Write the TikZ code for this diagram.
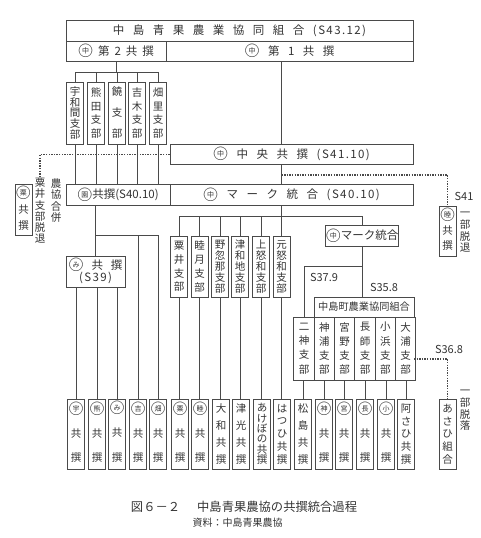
\documentclass[tikz,border=0pt]{standalone}
\usepackage{fontspec}
\setmainfont{Noto Sans CJK JP}
\usepackage{tikz}
\usetikzlibrary{positioning}
\definecolor{linec}{HTML}{4A4A4A}
\definecolor{textc}{HTML}{333333}
\newcommand{\maru}[1]{{\ooalign{\hfil\raisebox{1.6pt}{\fontsize{7}{7}\selectfont #1}\hfil\cr
  \raisebox{-1.4pt}{\fontsize{15}{15}\selectfont ○}\cr}}}
\newcommand{\ma}{\hspace{8.5pt}}
\newcommand{\mb}{\hspace{5pt}}
\newcommand{\nen}[1]{{\addfontfeature{LetterSpace=12}#1}}
\tikzset{
  yoko/.style ={rectangle, draw=linec, line width=0.9pt, text=textc, inner sep=0pt,
                minimum height=20.5pt, align=center, font=\fontsize{11.5}{13}\selectfont},
  tate/.style ={rectangle, draw=linec, line width=0.9pt, text=textc, inner sep=0pt,
                minimum width=17pt, align=center, font=\fontsize{10.5}{#1}\selectfont},
  note/.style ={text=textc, inner sep=0pt, align=center, font=\fontsize{10.5}{#1}\selectfont},
  lab/.style  ={text=textc, inner sep=0pt, font=\fontsize{11}{13}\selectfont},
  ln/.style   ={draw=linec, line width=0.9pt},
  dt/.style   ={draw=linec, line width=1.2pt, dash pattern=on 1.4pt off 1.2pt}
}
\begin{document}
\begin{tikzpicture}[x=1pt,y=-1pt]
\useasboundingbox (0,0) rectangle (480,538);
% top block
\node[yoko, minimum width=347pt] (kumiai) at (239.5,31)
  {中\ma 島\ma 青\ma 果\ma 農\ma 業\ma 協\ma 同\ma 組\ma 合\ma \nen{(S43.12)}};
\node[yoko, minimum width=100pt] (dai2) at (116,51.5)
  {\maru{中}\mb 第\mb 2\mb 共\mb 撰};
\node[yoko, minimum width=247pt] (dai1) at (289.5,51.5)
  {\maru{中}\ma 第\ma 1\ma 共\ma 撰};
\node[yoko, minimum width=243pt] (chuo) at (291.5,154.5)
  {\maru{中}\ma 中\ma 央\ma 共\ma 撰\ma \nen{(S41.10)}};
\node[yoko, minimum width=104pt] (ensen) at (118,195)
  {\maru{園}共撰(S40.10)};
\node[yoko, minimum width=243pt] (mark) at (291.5,195)
  {\maru{中}\ma マ\ma ー\ma ク\ma 統\ma 合\ma \nen{(S40.10)}};
% second kyosen branches
\foreach \n/\x/\s/\t in {u1/75/10.7/{宇\\和\\間\\支\\部},u2/96/13.8/{熊\\田\\支\\部},
    u3/117/21/{饒\\支\\部},u4/137/13.8/{吉\\木\\支\\部},u5/158/13.8/{畑\\里\\支\\部}}{
  \node[tate=\s, minimum height=62pt] (\n) at (\x,113) {\t};
  \draw[ln] (\n.south) -- (\n.south |- ensen.north);
}
\coordinate (hubb) at (116,72);
\draw[ln] (dai2.south) -- (hubb);
\draw[ln] (u1.north |- hubb) -- (u5.north |- hubb);
\foreach \n in {u1,u2,u3,u4,u5}{\draw[ln] (\n.north |- hubb) -- (\n.north);}
% shibu under mark
\foreach \n/\x/\s/\t in {s1/179/13.8/{粟\\井\\支\\部},s2/199.5/13.8/{睦\\月\\支\\部},
    s3/220/11/{野\\忽\\那\\支\\部},s4/240/11/{津\\和\\地\\支\\部},
    s5/261/11/{上\\怒\\和\\支\\部},s6/281.5/11/{元\\怒\\和\\支\\部}}{
  \node[tate=\s, minimum height=61pt] (\n) at (\x,266.5) {\t};
}
\draw[ln] (s6.north |- dai1.south) -- (s6.north |- chuo.north);
\draw[ln] (s6.north |- chuo.south) -- (s6.north |- mark.north);
\coordinate (hubs) at (281.5,216);
\draw[ln] (s6.north |- mark.south) -- (hubs);
% bottom row
\foreach \n/\x/\s/\t in {k1/76/24.5/{\maru{宇}\\共\\撰},k2/97/24.5/{\maru{熊}\\共\\撰},
    k3/117/24.5/{\maru{み}\\共\\撰},k4/138/24.5/{\maru{吉}\\共\\撰},k5/158/24.5/{\maru{畑}\\共\\撰},
    k6/180/24.5/{\maru{粟}\\共\\撰},k7/200/24.5/{\maru{睦}\\共\\撰},k8/221/16.7/{大\\和\\共\\撰},
    k9/241/16.7/{津\\光\\共\\撰},k10/262/10.4/{あ\\け\\ぼ\\の\\共\\撰},k11/282/12.7/{は\\つ\\ひ\\共\\撰},
    k12/303/16.7/{松\\島\\共\\撰},k13/324/24.5/{\maru{神}\\共\\撰},k14/344/24.5/{\maru{宮}\\共\\撰},
    k15/365/24.5/{\maru{長}\\共\\撰},k16/386/24.5/{\maru{小}\\共\\撰},k17/406/12.7/{阿\\さ\\ひ\\共\\撰},
    asahi/447.5/12.7/{あ\\さ\\ひ\\組\\合}}{
  \node[tate=\s, minimum height=70pt] (\n) at (\x,434) {\t};
}
\foreach \a/\b in {s1/k6,s2/k7,s3/k8,s4/k9,s5/k10,s6/k11}{
  \draw[ln] (\a.south) -- (\a.south |- \b.north);
}
% mi kyosen
\node[yoko, minimum width=59pt, minimum height=31pt] (mi) at (95.5,271.5)
  {\maru{み}\hspace{8pt}共\hspace{8pt}撰\\[-1pt]\nen{(S39)}};
\coordinate (hubm) at (95.5,235);
\draw[ln] (mi.north |- ensen.south) -- (mi.north);
\draw[ln] (hubm) -- (k5.north |- hubm);
\foreach \n in {k4,k5}{\draw[ln] (\n.north |- hubm) -- (\n.north);}
\foreach \n in {k1,k2,k3}{\draw[ln] (\n.north |- mi.south) -- (\n.north);}
% nakajima-cho block
\node[yoko, minimum width=72pt] (mark2) at (362,236)
  {\maru{中}マーク統合};
\draw[ln] (s1.north |- hubs) -- (mark2.north |- hubs) -- (mark2.north);
\foreach \n in {s1,s2,s3,s4,s5,s6}{\draw[ln] (\n.north |- hubs) -- (\n.north);}
\node[yoko, minimum width=100pt, minimum height=20pt,
      font=\fontsize{10.2}{12}\selectfont] (choku) at (364,307) {中島町農業協同組合};
\foreach \n/\x/\t in {n1/304/{二\\神\\支\\部},n2/324.3/{神\\浦\\支\\部},n3/344.7/{宮\\野\\支\\部},
    n4/365/{長\\師\\支\\部},n5/385.3/{小\\浜\\支\\部},n6/405.7/{大\\浦\\支\\部}}{
  \node[tate=14.3, minimum width=20.33pt, minimum height=63pt] (\n) at (\x,348.5) {\t};
}
\foreach \a/\b in {n1/k12,n2/k13,n3/k14,n4/k15,n5/k16,n6/k17}{
  \draw[ln] (\b.north |- \a.south) -- (\b.north);
}
\coordinate (hubn) at (362,266);
\draw[ln] (mark2.south) -- (hubn |- choku.north);
\draw[ln] (hubn) -- (n1.north |- hubn) -- (n1.north);
% dropped out groups
\node[tate=16, minimum height=51pt] (kyoL) at (23.5,210) {\maru{粟}\\共\\撰};
\node[tate=15, minimum height=50pt] (kyoR) at (447.5,231) {\maru{睦}\\共\\撰};
\coordinate (dotL) at (40,178);
\coordinate (dotR) at (281.5,175);
\coordinate (dotN) at (414,359);
\draw[dt] (chuo.west) -- (dotL |- chuo.west) -- (dotL);
\draw[dt] (dotR) -- (kyoR.north |- dotR) -- (kyoR.north);
\draw[dt] (dotN) -- (asahi.north |- dotN) -- (asahi.north);
% side notes
\node[note=11.2] (datsuL) at (40,211) {粟\\井\\支\\部\\脱\\退};
\node[note=11.2] (gappei) at (56,200.5) {農\\協\\合\\併};
\node[note=11.7] (datsuR) at (465,232.5) {一\\部\\脱\\退};
\node[note=11.7] (datsuN) at (465,410.5) {一\\部\\脱\\落};
\node[lab] (s41) at (464,196) {S41};
\node[lab] (s379) at (324,277) {S37.9};
\node[lab] (s358) at (384,287) {S35.8};
\node[lab] (s368) at (449,349) {S36.8};
% caption
\node[text=textc, inner sep=0pt, font=\fontsize{12.3}{14}\selectfont] (cap) at (244,507)
  {図６－２\hspace{17pt}中島青果農協の共撰統合過程};
\node[text=textc, inner sep=0pt, font=\fontsize{10}{12}\selectfont] (src) at (237.5,523)
  {資料：中島青果農協};
\end{tikzpicture}
\end{document}
